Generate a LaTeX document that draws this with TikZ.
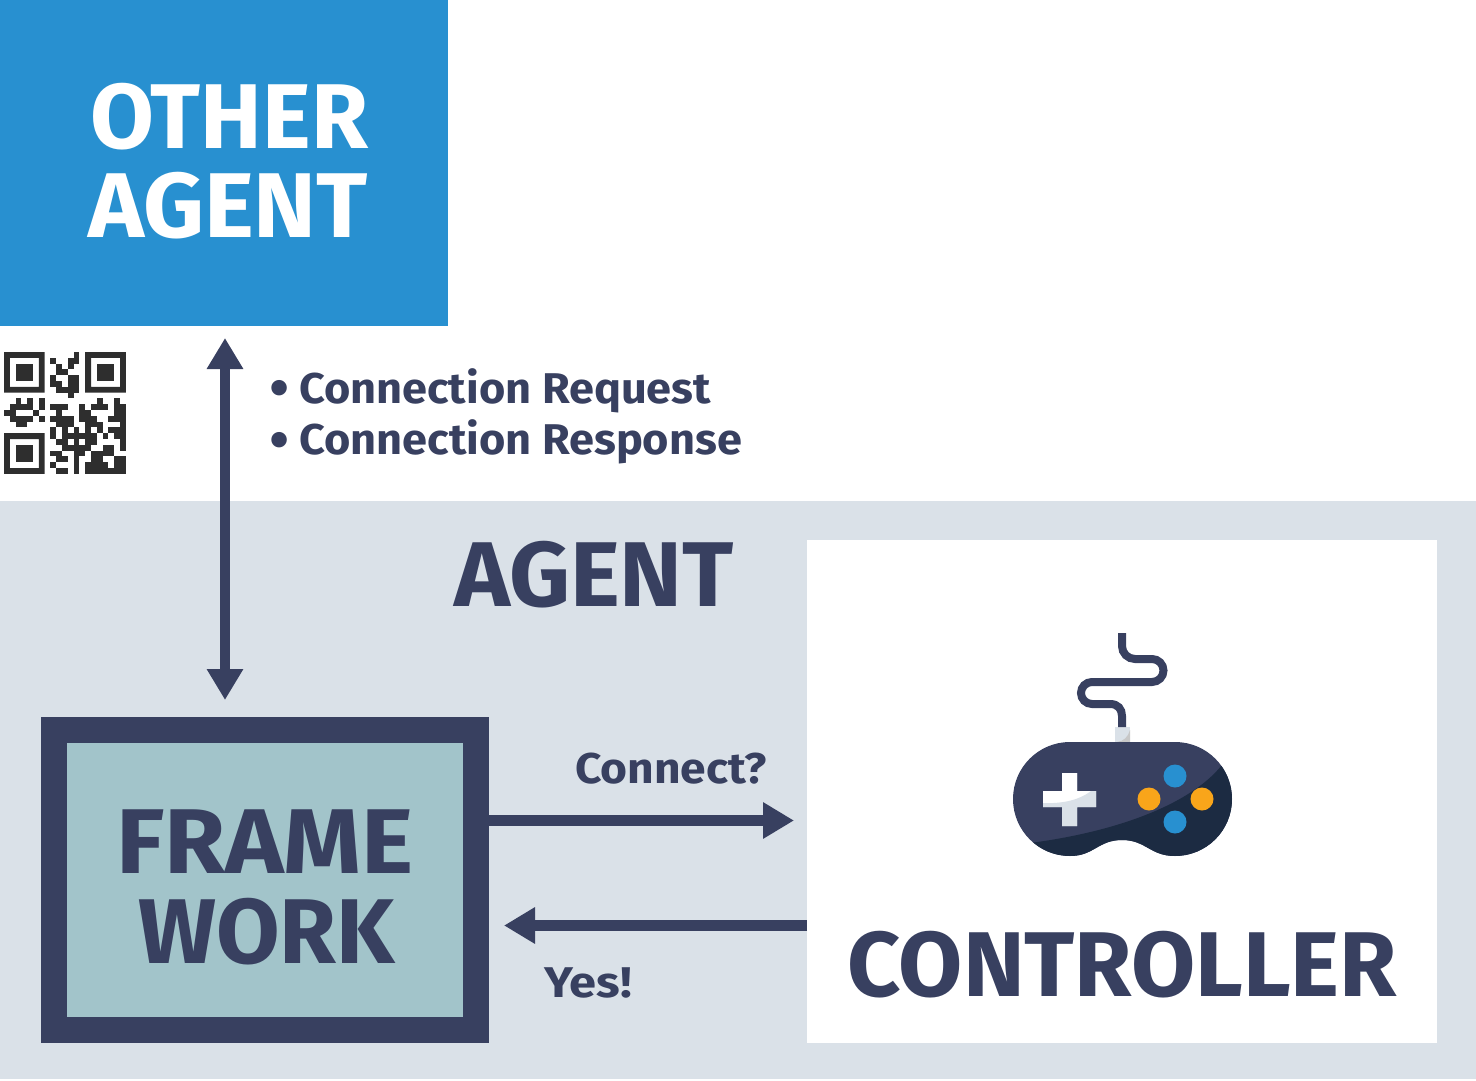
\documentclass[tikz,border=0pt]{standalone}
\usepackage{fontspec}
\setmainfont{Fira Sans}
\newfontfamily\bulletfont{DejaVu Sans}
\usetikzlibrary{arrows.meta}
\definecolor{navy}{HTML}{384060}
\definecolor{deepnavy}{HTML}{1C2B42}
\definecolor{skyblue}{HTML}{2890D0}
\definecolor{panel}{HTML}{DAE1E8}
\definecolor{teal}{HTML}{A2C4CA}
\definecolor{amber}{HTML}{F9A51A}
\newcommand{\fitw}[3]{\resizebox{#1pt}{\height}{\fontsize{#2pt}{#2pt}\selectfont\bfseries #3}}
\tikzset{
  x=1pt,y=-1pt,
  label text/.style={anchor=base west,inner sep=0pt,outer sep=0pt,text=navy},
  flow/.style={draw=navy,line width=10.5pt,{Triangle[length=31pt,width=34.5pt]}-{Triangle[length=31pt,width=34.5pt]}},
  oneway/.style={draw=navy,line width=10.5pt,-{Triangle[length=31pt,width=34.5pt]}},
  qrcell/.style={fill=black!82},
}
\begin{document}
\begin{tikzpicture}
\useasboundingbox (0,0) rectangle (1476,1081);
% panels
\fill[panel] (0,501) rectangle (1476,1079);
\fill[skyblue] (0,0) rectangle (448,326);
\coordinate (otherBottom) at (225,338);
\node[label text,text=white] (other1) at (90,148) {\fitw{278}{92}{OTHER}};
\node[label text,text=white] (other2) at (88,237) {\fitw{280}{92}{AGENT}};
\fill[white] (807,540) rectangle (1437,1043);
\fill[navy] (41,717) rectangle (489,1043);
\fill[teal] (67,743) rectangle (463,1017);
\coordinate (fwTop) at (225,700);
\coordinate (fwRight) at (489,820.5);
\coordinate (fwReturn) at (504,925.5);
\coordinate (ctlLeft) at (794,820.5);
\coordinate (ctlReturn) at (807,925.5);
\node[label text] (agent) at (454,606) {\fitw{280}{92}{AGENT}};
\node[label text] (frame) at (116,873) {\fitw{298}{92}{FRAME}};
\node[label text] (work) at (138,963) {\fitw{257}{92}{WORK}};
\node[label text] (controller) at (847,996) {\fitw{550}{92}{CONTROLLER}};
\node[label text] (connect) at (575,783) {\fitw{192}{43}{Connect?}};
\node[label text] (yes) at (544,997) {\fitw{88}{43}{Yes!}};
\node[label text] (bullet1) at (265.5,404) {\fontsize{44}{44}\bulletfont\bfseries •};
\node[label text] (bullet2) at (265.5,456) {\fontsize{44}{44}\bulletfont\bfseries •};
\node[label text] (req) at (299,403) {\fitw{412}{43}{Connection Request}};
\node[label text] (resp) at (299,454) {\fitw{443}{43}{Connection Response}};
% connectors
\draw[flow] (otherBottom) -- (fwTop);
\draw[oneway] (fwRight) -- (ctlLeft);
\draw[oneway] (ctlReturn) -- (fwReturn);
% QR code
\begin{scope}[shift={(4,352)},x=5.8pt,y=-5.8pt]
  \foreach \ox/\oy in {0/0,14/0,0/14}{
    \fill[qrcell,even odd rule] (\ox,\oy) rectangle ++(7,7) (\ox+1,\oy+1) rectangle ++(5,5);
    \fill[qrcell] (\ox+2,\oy+2) rectangle ++(3,3);
  }
  \foreach \r/\cols in {
    0/{12},1/{8,11,12},2/{9,11},3/{9,10},4/{8,11,12},5/{8,9,11,12},6/{9,10,11,12},7/{11},
    8/{2,4,6,16,19},
    9/{1,2,3,4,6,8,9,10,13,15,16,17,19,20},
    10/{0,1,5,9,13,14,19,20},
    11/{1,2,3,4,6,8,9,10,11,13,14,15,18,19,20},
    12/{2,3,9,10,11,14,15,16,20},
    13/{8,10,12,14,16,18,19,20},
    14/{8,10,11,12,13,14,15,17,19,20},
    15/{9,10,12,14,15,20},
    16/{10,11,12,13,14,17,18,20},
    17/{8,9,12,13,15,16,17,18},
    18/{9,10,12,15,16,19,20},
    19/{8,12,14,15,16,17,19,20},
    20/{9,10,12,14,15,16,17,18,19,20}}{
    \foreach \c in \cols {\fill[qrcell] (\c,\r) rectangle ++(1,1);}
  }
\end{scope}
% gamepad
\fill[panel] (1115,727) rectangle (1130,742);
\fill[black!22] (1130,730) -- (1130,742) -- (1117,742) .. controls (1124,741) and (1128,737) .. (1130,730);
\draw[navy,line width=8pt] (1122,633) -- (1122,646) arc[start angle=180,end angle=90,radius=13] -- (1152,659)
  arc[start angle=-90,end angle=90,radius=11.5] -- (1092,682)
  arc[start angle=-90,end angle=-270,radius=11] -- (1110,704) .. controls (1118,704) and (1122,709) .. (1122,716) -- (1122,727);
\def\padpath{(1070,742) -- (1175,742) arc[start angle=-90,end angle=90,radius=57] .. controls (1150,856) and (1146,840) .. (1122,840) .. controls (1098,840) and (1094,856) .. (1070,856) arc[start angle=90,end angle=270,radius=57] -- cycle}
\fill[navy] \padpath;
\begin{scope}
  \clip \padpath;
  \fill[deepnavy] (1030,843) .. controls (1115,832) and (1190,805) .. (1222,765) -- (1240,765) -- (1240,860) -- (1030,860) -- cycle;
\end{scope}
\fill[panel] (1062,773) rectangle (1077,826) (1043,791) rectangle (1096,807);
\begin{scope}
  \clip (1062,773) rectangle (1077,826) (1043,791) rectangle (1096,807);
  \fill[white] (1040,770) rectangle (1095,803);
  \fill[panel] (1040,803) .. controls (1060,804) and (1078,801) .. (1091,791) -- (1100,791) -- (1100,830) -- (1040,830) -- cycle;
\end{scope}
\fill[skyblue] (1175,776) circle[radius=11.5] (1175,822) circle[radius=11.5];
\fill[amber] (1149,799) circle[radius=11.5] (1202,799) circle[radius=11.5];
\end{tikzpicture}
\end{document}
